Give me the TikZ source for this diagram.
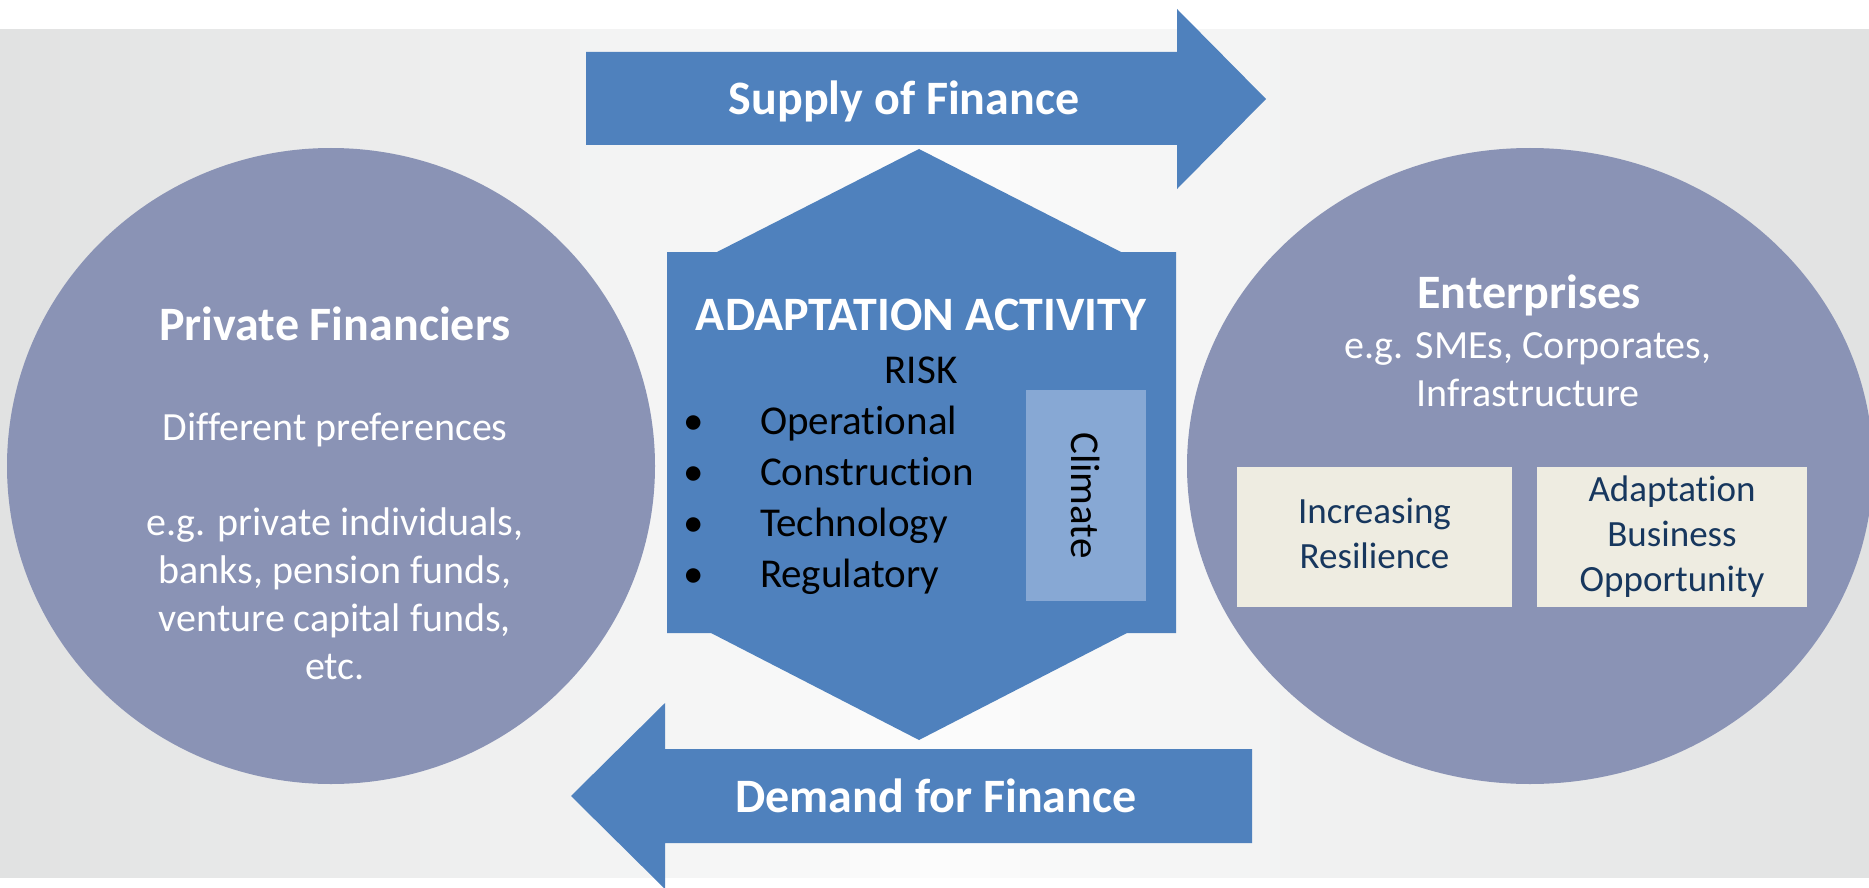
\documentclass[tikz,border=0pt]{standalone}
\usepackage{fontspec}
\setmainfont{Carlito}[Ligatures=NoCommon]
\definecolor{bandgrey}{HTML}{E1E2E2}
\definecolor{bandlight}{HTML}{FCFCFC}
\definecolor{flowblue}{HTML}{4F81BD}
\definecolor{partyviolet}{HTML}{8A93B5}
\definecolor{climateblue}{HTML}{87A8D4}
\definecolor{notecream}{HTML}{EEECE1}
\definecolor{noteink}{HTML}{17375E}
\tikzset{
  txt/.style={inner sep=0pt, outer sep=0pt},
  headline/.style={txt, text=white, font=\fontsize{48}{58}\selectfont\bfseries, anchor=base},
  bodytext/.style={txt, text=white, font=\fontsize{40}{48}\selectfont, align=center},
  risktext/.style={txt, text=black, font=\fontsize{41}{51}\selectfont},
  notebox/.style={txt, fill=notecream, text=noteink, align=center,
    font=\fontsize{37}{45}\selectfont, minimum height=140pt},
}
\begin{document}
\begin{tikzpicture}[x=1pt, y=-1pt]
\useasboundingbox (0,0) rectangle (1869,888);
\fill[white] (0,0) rectangle (1869,888);
% soft grey band behind everything, light in the middle, grey at both ends
\foreach \i in {0,...,186} {
  \pgfmathtruncatemacro{\mix}{round(abs(10*\i+5-934.5)/9.345)}
  \fill[bandgrey!\mix!bandlight] (10*\i,29) rectangle (10*\i+10.6,878);
}

% the two parties
\fill[partyviolet] (331,466) ellipse [x radius=324pt, y radius=318pt];
\fill[partyviolet] (1530,466) ellipse [x radius=343pt, y radius=318pt];

% flow arrows
\fill[flowblue] (586,52) -- (1177,52) -- (1177,9) -- (1266,99) -- (1177,189)
  -- (1177,145) -- (586,145) -- cycle;
\fill[flowblue] (1252,749) -- (665,749) -- (665,703) -- (571,796) -- (665,889)
  -- (665,843) -- (1252,843) -- cycle;

% central activity hexagon
\fill[flowblue] (667,252) -- (717,252) -- (919,149) -- (1121,252) -- (1176,252)
  -- (1176,633) -- (1127,633) -- (919,740) -- (711,633) -- (667,633) -- cycle;

% arrow labels
\node[headline] (supplytxt) at (904,115) {Supply of Finance};
\node[headline] (demandtxt) at (936,812) {Demand for Finance};

% financiers
\node[headline] (pftitle) at (335,340) {Private Financiers};
\node[bodytext, anchor=base] (pfpref) at (335,440) {Different preferences};
\node[bodytext] (pfex) at (335,597.4)
  {\strut e.g. private individuals,\\\strut banks, pension funds,\\
   \strut venture capital funds,\\\strut etc.};

% enterprises
\node[headline] (entitle) at (1529,308) {Enterprises};
\node[bodytext] (enex) at (1528,372.8)
  {\strut e.g. SMEs, Corporates,\\\strut Infrastructure};
\node[notebox, minimum width=275pt] (resil) at (1374.5,537)
  {\strut Increasing\\\strut Resilience};
\node[notebox, minimum width=270pt] (opport) at (1672,537)
  {\strut Adaptation\\\strut Business\\\strut Opportunity};

% activity and its risks
\node[headline] (acttitle) at (921,330) {ADAPTATION ACTIVITY};
\node[risktext, anchor=base] (risk) at (921,383) {RISK};
\node[risktext, align=center] (bullets) at (694,500.3)
  {\strut•\\\strut•\\\strut•\\\strut•};
\node[risktext, align=left, anchor=west] (risklist) at (760,500.3)
  {\strut Operational\\\strut Construction\\\strut Technology\\\strut Regulatory};
\node[txt, fill=climateblue, minimum width=120pt, minimum height=211pt]
  (climbox) at (1086,495.5) {};
\node[risktext, rotate=-90] (climate) at (climbox.center) {Climate};
\end{tikzpicture}
\end{document}
